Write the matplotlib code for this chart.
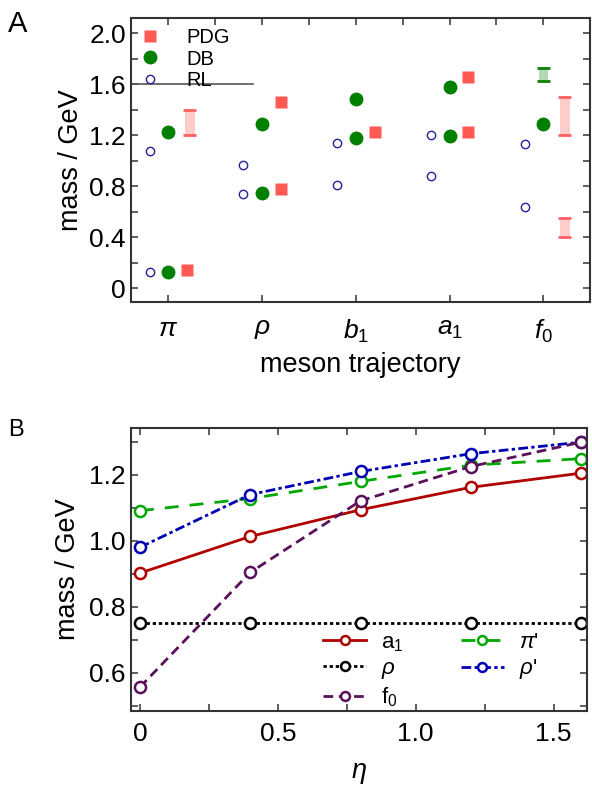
import numpy as np
import matplotlib
matplotlib.use("Agg")
import matplotlib.pyplot as plt
from matplotlib.ticker import MultipleLocator, FuncFormatter

plt.rcParams['font.family'] = ['Liberation Sans', 'DejaVu Sans']
plt.rcParams['mathtext.fontset'] = 'custom'
plt.rcParams['mathtext.rm'] = 'Liberation Sans'
plt.rcParams['mathtext.it'] = 'Liberation Sans:italic'

# ---- panel A data ----
mesons = [r'$\pi$', r'$\rho$', r'$b_1$', r'$a_1$', r'$f_0$']
# (meson index, mass)
rl_idx = [0, 0, 1, 1, 2, 2, 3, 3, 4, 4]
rl_mass = [0.125, 1.075, 0.74, 0.965, 0.81, 1.14, 0.88, 1.20, 0.64, 1.13]
db_idx = [0, 0, 1, 1, 2, 2, 3, 3, 4]
db_mass = [0.13, 1.23, 0.745, 1.29, 1.18, 1.485, 1.195, 1.58, 1.29]
pdg_idx = [0, 1, 1, 2, 3, 3]
pdg_mass = [0.14, 0.776, 1.465, 1.23, 1.23, 1.66]
# PDG ranges (meson index, low, high)
pdg_rng_idx = [0, 4, 4]
pdg_rng_lo = [1.20, 1.20, 0.40]
pdg_rng_hi = [1.40, 1.50, 0.55]
# DB range
db_rng_idx = [4]
db_rng_lo = [1.63]
db_rng_hi = [1.73]

# ---- panel B data ----
eta = [0, 0.4, 0.8, 1.2, 1.6]
m_a1 = [0.902, 1.013, 1.094, 1.162, 1.205]
m_rho = [0.75, 0.75, 0.75, 0.75, 0.75]
m_f0 = [0.556, 0.904, 1.121, 1.225, 1.299]
m_pip = [1.091, 1.128, 1.18, 1.229, 1.249]
m_rhop = [0.98, 1.14, 1.21, 1.264, 1.299]

fig = plt.figure(figsize=(5.92, 7.89), dpi=100)
axA = fig.add_axes([0.221, 0.617, 0.776, 0.360])
axB = fig.add_axes([0.221, 0.099, 0.770, 0.359])

spine_c = '#333333'
tick_fs = 19
lab_fs = 19.5
for ax in (axA, axB):
    for s in ax.spines.values():
        s.set_color(spine_c)
        s.set_linewidth(1.5)
    ax.tick_params(which='both', direction='in', colors=spine_c, labelcolor='black',
                   labelsize=tick_fs, width=1.1)
    ax.tick_params(which='major', length=5)
    ax.tick_params(which='minor', length=5)

# panel A
xr = np.array(rl_idx) - 0.2
xd = np.array(db_idx)
xp = np.array(pdg_idx) + 0.2
axA.bar(np.array(pdg_rng_idx) + 0.23, np.array(pdg_rng_hi) - np.array(pdg_rng_lo),
        bottom=pdg_rng_lo, width=0.1, color='#ffcccc', zorder=1)
axA.hlines(pdg_rng_lo + pdg_rng_hi, np.array(pdg_rng_idx * 2) + 0.16, np.array(pdg_rng_idx * 2) + 0.30,
           color='#ff6060', lw=2, zorder=2)
axA.bar(db_rng_idx, np.array(db_rng_hi) - np.array(db_rng_lo), bottom=db_rng_lo,
        width=0.1, color='#b3d9b3', zorder=1)
axA.hlines(db_rng_lo + db_rng_hi, np.array(db_rng_idx * 2) - 0.07, np.array(db_rng_idx * 2) + 0.07,
           color='#0a800a', lw=2, zorder=2)

axA.plot(xp, pdg_mass, 's', color='#ff5a52', ms=8.5, mec='none', label='PDG', zorder=3)
axA.plot(xd, db_mass, 'o', color='#008000', ms=10, mec='none', label='DB', zorder=3)
axA.plot(xr, rl_mass, 'o', mfc='none', mec='#22229a', ms=6, mew=1.0, label='RL', zorder=3)
axA.axhline(1.6, xmin=0, xmax=0.266, color='#555555', lw=1.2)

axA.set_xlim(-0.4, 4.5)
axA.set_ylim(-0.11, 2.12)
axA.set_xticks(range(len(mesons)))
axA.set_xticklabels(mesons, fontsize=tick_fs)
axA.yaxis.set_major_locator(MultipleLocator(0.4))
axA.yaxis.set_minor_locator(MultipleLocator(0.2))
axA.yaxis.set_major_formatter(FuncFormatter(lambda v, p: '0' if abs(v) < 1e-9 else f'{v:.1f}'))
axA.tick_params(axis='x', which='major', pad=11)
axA.set_ylabel('mass / GeV', fontsize=lab_fs, labelpad=4)
axA.set_xlabel('meson trajectory', fontsize=lab_fs, labelpad=5)
# top / right ticks without labels
tA = axA.secondary_xaxis('top')
tA.set_xticks(np.arange(-0.5, 4.6, 0.5))
tA.tick_params(direction='in', length=5, labeltop=False, colors=spine_c, width=1.1)
rA = axA.secondary_yaxis('right')
rA.set_yticks(np.arange(0, 2.01, 0.2))
rA.tick_params(direction='in', length=5, labelright=False, colors=spine_c, width=1.1)
for sp in list(tA.spines.values()) + list(rA.spines.values()):
    sp.set_visible(False)

axA.legend(loc='upper left', bbox_to_anchor=(0.02, 0.965), frameon=False, fontsize=14.5,
           handlelength=1.0, handletextpad=1.3, borderpad=0, borderaxespad=0,
           labelspacing=0.12, numpoints=1)

# panel B
lw = 2.0
mk = dict(marker='o', ms=8, mfc='white', mew=1.8)
axB.plot(eta, m_rho, color='black', ls=(0, (1.2, 1.0)), lw=lw, mec='black', label=r'$\rho$', **mk)
axB.plot(eta, m_pip, color='#00a800', ls=(0, (5, 4)), lw=lw, mec='#00a800', label=r"$\pi$'", **mk)
axB.plot(eta, m_a1, color='#b00000', ls='-', lw=lw, mec='#b00000', label=r'a$_1$', **mk)
axB.plot(eta, m_rhop, color='#0000b4', ls=(0, (3.5, 1.2, 1.2, 1.2)), lw=lw, mec='#0000b4',
         label=r"$\rho$'", **mk)
axB.plot(eta, m_f0, color='#5a105a', ls=(0, (3.5, 2)), lw=lw, mec='#5a105a', label=r'f$_0$', **mk)

axB.set_xlim(-0.033, 1.62)
axB.set_ylim(0.484, 1.343)
axB.xaxis.set_major_locator(MultipleLocator(0.5))
axB.xaxis.set_minor_locator(MultipleLocator(0.25))
axB.yaxis.set_major_locator(MultipleLocator(0.2))
axB.yaxis.set_minor_locator(MultipleLocator(0.1))
axB.xaxis.set_major_formatter(FuncFormatter(lambda v, p: '0' if abs(v) < 1e-9 else f'{v:.1f}'))
axB.tick_params(which='both', top=True, right=True)
axB.tick_params(axis='x', which='major', pad=8)
axB.set_ylabel('mass / GeV', fontsize=lab_fs, labelpad=6)
axB.set_xlabel(r'$\eta$', fontsize=lab_fs, labelpad=10)

h, l = axB.get_legend_handles_labels()
order = [2, 0, 4, 1, 3]
axB.legend([h[i] for i in order], [l[i] for i in order], ncol=2, loc='lower right',
           bbox_to_anchor=(0.915, -0.025), frameon=False, fontsize=16, handlelength=1.9,
           handletextpad=0.7, columnspacing=2.6, labelspacing=0.2, borderaxespad=0.0,
           markerscale=0.8)

fig.text(0.013, 0.987, 'A', fontsize=21, va='top')
fig.text(0.013, 0.469, 'B', fontsize=17, va='top')

fig.savefig('out.png', dpi=100)
